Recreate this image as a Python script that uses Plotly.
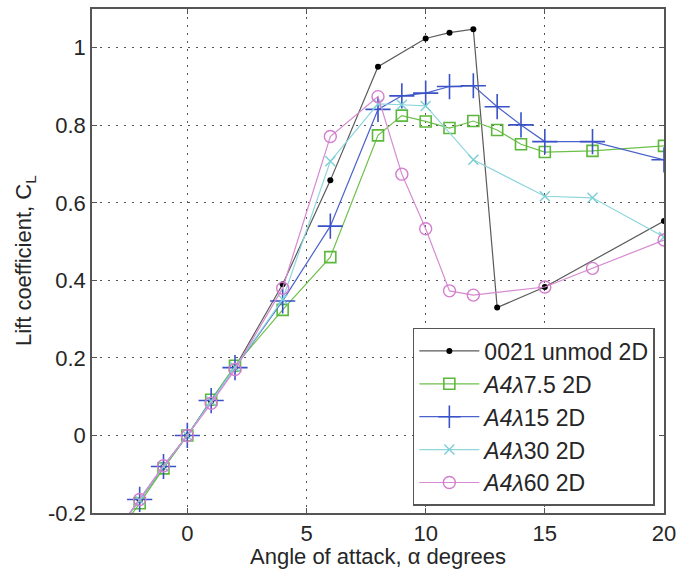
import plotly.graph_objects as go

# Angle of attack (degrees) for each configuration
alpha_unmod = [-3, -2, -1, 0, 1, 2, 4, 6, 8, 10, 11, 12, 13, 15, 20]
alpha_a4l7 = [-3, -2, -1, 0, 1, 2, 4, 6, 8, 9, 10, 11, 12, 13, 14, 15, 17, 20]
alpha_a4l15 = [-3, -2, -1, 0, 1, 2, 4, 6, 8, 9, 10, 11, 12, 13, 14, 15, 17, 20]
alpha_a4l30 = [-3, -2, -1, 0, 1, 2, 4, 6, 8, 9, 10, 12, 15, 17, 20]
alpha_a4l60 = [-3, -2, -1, 0, 1, 2, 4, 6, 8, 9, 10, 11, 12, 15, 17, 20]

# Lift coefficient C_L
cl_unmod = [-0.25, -0.167, -0.081, 0.0, 0.088, 0.176, 0.39, 0.658, 0.951,
            1.024, 1.039, 1.048, 0.33, 0.383, 0.553]
cl_a4l7 = [-0.26, -0.175, -0.085, 0.0, 0.092, 0.18, 0.324, 0.46, 0.774, 0.825,
           0.81, 0.793, 0.811, 0.788, 0.751, 0.731, 0.734, 0.747]
cl_a4l15 = [-0.25, -0.165, -0.08, 0.0, 0.09, 0.175, 0.347, 0.54, 0.841, 0.876,
            0.883, 0.90, 0.902, 0.848, 0.801, 0.758, 0.758, 0.711]
cl_a4l30 = [-0.25, -0.167, -0.08, 0.0, 0.088, 0.176, 0.351, 0.707, 0.855,
            0.853, 0.85, 0.711, 0.617, 0.613, 0.512]
cl_a4l60 = [-0.25, -0.165, -0.078, 0.0, 0.083, 0.17, 0.38, 0.771, 0.874,
            0.674, 0.533, 0.373, 0.362, 0.383, 0.431, 0.504]

names = ["0021 unmod 2D",
         "<i>A4λ</i>7.5 2D",
         "<i>A4λ</i>15 2D",
         "<i>A4λ</i>30 2D",
         "<i>A4λ</i>60 2D"]

FONT = "Liberation Sans, Arial, sans-serif"
TXT = "#262626"

fig = go.Figure()

fig.add_trace(go.Scatter(
    x=alpha_unmod, y=cl_unmod, name=names[0], mode="lines+markers",
    line=dict(color="#5a5a5a", width=1.2),
    marker=dict(symbol="circle", size=6, color="black"),
))
fig.add_trace(go.Scatter(
    x=alpha_a4l7, y=cl_a4l7, name=names[1], mode="lines+markers",
    line=dict(color="#6cc04a", width=1.2),
    marker=dict(symbol="square-open", size=11, color="#5cb83a",
                line=dict(width=1.6, color="#5cb83a")),
))
fig.add_trace(go.Scatter(
    x=alpha_a4l15, y=cl_a4l15, name=names[2], mode="lines+markers",
    line=dict(color="#4a62cc", width=1.2),
    marker=dict(symbol="cross-thin-open", size=18, color="#3a52c8",
                line=dict(width=1.6, color="#3a52c8")),
))
fig.add_trace(go.Scatter(
    x=alpha_a4l30, y=cl_a4l30, name=names[3], mode="lines+markers",
    line=dict(color="#8fd6dc", width=1.2),
    marker=dict(symbol="x-thin-open", size=10, color="#7ccfd6",
                line=dict(width=1.4, color="#7ccfd6")),
))
fig.add_trace(go.Scatter(
    x=alpha_a4l60, y=cl_a4l60, name=names[4], mode="lines+markers",
    line=dict(color="#d68ad0", width=1.2),
    marker=dict(symbol="circle-open", size=12, color="#d47ccd",
                line=dict(width=1.4, color="#d47ccd")),
))

axis_common = dict(
    showline=True, linecolor="#555555", linewidth=1.5, mirror="allticks",
    ticks="inside", ticklen=5, tickcolor="#555555",
    showgrid=True, gridcolor="#555555", griddash="2px,6px", gridwidth=1.2,
    zeroline=False,
    tickfont=dict(family=FONT, size=22, color=TXT),
)

fig.update_xaxes(
    range=[-4, 20], tickvals=[0, 5, 10, 15, 20],
    **axis_common,
)
fig.update_yaxes(
    range=[-0.2, 1.1], tickvals=[-0.2, 0, 0.2, 0.4, 0.6, 0.8, 1],
    ticktext=["-0.2", "0", "0.2", "0.4", "0.6", "0.8", "1"],
    **axis_common,
)

# Axis titles
fig.add_annotation(
    text="Angle of attack, α degrees", xref="paper", yref="paper",
    x=0.5, y=-0.087, xanchor="center", yanchor="middle", showarrow=False,
    font=dict(family=FONT, size=22, color=TXT),
)
fig.add_annotation(
    text="Lift coefficient, C<sub>L</sub>", xref="paper", yref="paper",
    x=-0.117, y=0.5, xanchor="center", yanchor="middle", showarrow=False,
    textangle=-90, font=dict(family=FONT, size=22, color=TXT),
)

fig.update_layout(
    width=683, height=581,
    margin=dict(l=92, r=17, t=7, b=68),
    paper_bgcolor="white", plot_bgcolor="white",
    font=dict(family=FONT, size=22, color=TXT),
    legend=dict(
        x=0.984, y=0.014, xanchor="right", yanchor="bottom",
        bgcolor="white", bordercolor="#555555", borderwidth=1.5,
        font=dict(family=FONT, size=23, color=TXT),
        itemwidth=60, tracegroupgap=0,
    ),
    showlegend=True,
)

fig.write_html("out.html")
